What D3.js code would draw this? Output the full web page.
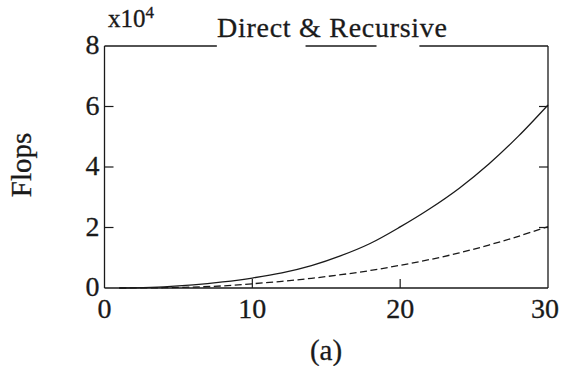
<!DOCTYPE html>
<html>
<head>
<meta charset="utf-8">
<script src="https://cdn.jsdelivr.net/npm/d3@7"></script>
<style>
  body { margin: 0; background: #fff; }
  text { stroke: #1a1a1a; stroke-width: 0.3px; }
</style>
</head>
<body>
<div id="chart"></div>
<script>
// problem size n
const sizes = [1, 2, 4, 6, 8, 10, 12, 14, 16, 18, 20, 22, 24, 26, 28, 30];
// flops (x10^4) for the two methods
const directFlops = [0, 0.005, 0.035, 0.1, 0.2, 0.33, 0.5, 0.74, 1.07, 1.48, 2.02, 2.62, 3.3, 4.1, 5.02, 6.05];
const recursiveFlops = [0, 0.002, 0.01, 0.03, 0.07, 0.14, 0.22, 0.32, 0.44, 0.58, 0.75, 0.94, 1.16, 1.42, 1.71, 2.03];
const xTicks = [0, 10, 20, 30];
const yTicks = [0, 2, 4, 6, 8];
// the top frame line is broken in the scan (x in data units)
const topFrame = [[0, 7.6], [13.6, 18.4], [21.3, 30]];

const width = 563, height = 366;
const ink = '#1a1a1a';
const serif = '"Liberation Serif", "Times New Roman", Times, serif';

const svg = d3.select('#chart').append('svg')
  .attr('width', width)
  .attr('height', height)
  .attr('font-family', serif);

const x = d3.scaleLinear().domain([0, 30]).range([104.5, 548]);
const y = d3.scaleLinear().domain([0, 8]).range([288, 46]);

// frame: left, right, bottom
svg.append('line').attr('x1', x(0)).attr('x2', x(0)).attr('y1', y(0)).attr('y2', y(8))
  .attr('stroke', ink).attr('stroke-width', 1.3);
svg.append('line').attr('x1', x(30)).attr('x2', x(30)).attr('y1', y(0)).attr('y2', y(8))
  .attr('stroke', ink).attr('stroke-width', 1.3);
svg.append('line').attr('x1', x(0)).attr('x2', x(30)).attr('y1', y(0)).attr('y2', y(0))
  .attr('stroke', ink).attr('stroke-width', 1.3);
topFrame.forEach(([a, b]) => {
  svg.append('line').attr('x1', x(a)).attr('x2', x(b)).attr('y1', y(8)).attr('y2', y(8))
    .attr('stroke', ink).attr('stroke-width', 1.3);
});

// inward ticks
const tickLen = 9;
yTicks.slice(1, -1).forEach((t) => {
  svg.append('line').attr('x1', x(0)).attr('x2', x(0) + tickLen).attr('y1', y(t)).attr('y2', y(t))
    .attr('stroke', ink).attr('stroke-width', 1.2);
  svg.append('line').attr('x1', x(30)).attr('x2', x(30) - tickLen).attr('y1', y(t)).attr('y2', y(t))
    .attr('stroke', ink).attr('stroke-width', 1.2);
});
xTicks.slice(1, -1).forEach((t) => {
  svg.append('line').attr('x1', x(t)).attr('x2', x(t)).attr('y1', y(0)).attr('y2', y(0) - tickLen)
    .attr('stroke', ink).attr('stroke-width', 1.2);
});

// tick labels
svg.selectAll('.ylab').data(yTicks).enter().append('text')
  .attr('x', x(0) - 5)
  .attr('y', (d) => y(d) + 8)
  .attr('text-anchor', 'end')
  .attr('font-size', 28)
  .attr('fill', ink)
  .text((d) => d);

svg.selectAll('.xlab').data(xTicks).enter().append('text')
  .attr('x', (d) => (d === 30 ? x(d) - 3 : x(d)))
  .attr('y', 318)
  .attr('text-anchor', 'middle')
  .attr('font-size', 28)
  .attr('fill', ink)
  .text((d) => d);

// exponent
const expo = svg.append('text').attr('x', 108).attr('y', 27).attr('font-size', 25).attr('fill', ink);
expo.append('tspan').text('x10');
expo.append('tspan').attr('dy', -9).attr('font-size', 17).text('4');

// title
svg.append('text')
  .attr('x', 217)
  .attr('y', 37)
  .attr('font-size', 28)
  .attr('textLength', 230)
  .attr('fill', ink)
  .text('Direct & Recursive');

// y label
svg.append('text')
  .attr('transform', 'translate(31,165) rotate(-90)')
  .attr('text-anchor', 'middle')
  .attr('font-size', 29)
  .attr('fill', ink)
  .text('Flops');

// caption
svg.append('text')
  .attr('x', 326)
  .attr('y', 360)
  .attr('text-anchor', 'middle')
  .attr('font-size', 29)
  .attr('fill', ink)
  .text('(a)');

// curves
const line = d3.line()
  .x((d) => x(d[0]))
  .y((d) => y(d[1]))
  .curve(d3.curveCatmullRom);

svg.append('path')
  .datum(d3.zip(sizes, directFlops))
  .attr('d', line)
  .attr('fill', 'none')
  .attr('stroke', ink)
  .attr('stroke-width', 1.3);

svg.append('path')
  .datum(d3.zip(sizes, recursiveFlops))
  .attr('d', line)
  .attr('fill', 'none')
  .attr('stroke', ink)
  .attr('stroke-width', 1.3)
  .attr('stroke-dasharray', '7,3.5');
</script>
</body>
</html>
